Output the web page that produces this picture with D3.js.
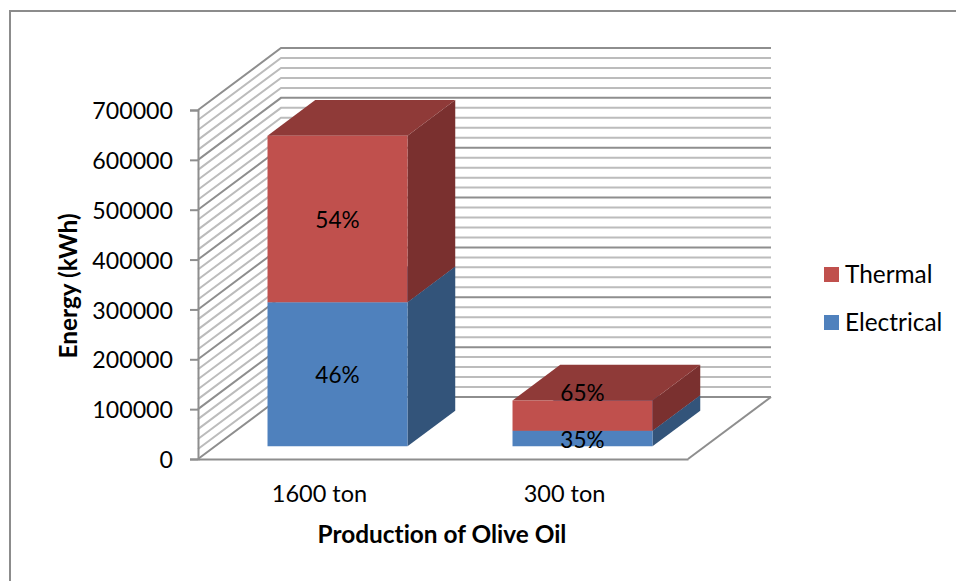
<!DOCTYPE html>
<html>
<head>
<meta charset="utf-8">
<script src="https://cdn.jsdelivr.net/npm/d3@7"></script>
<style>
  html, body { margin: 0; padding: 0; background: #fff; }
  svg { display: block; }
  text { font-family: Lato, "Open Sans", sans-serif; fill: #000; font-variant-ligatures: none; }
</style>
</head>
<body>
<script>
var categories = ['1600 ton', '300 ton'];
var electrical = [289000, 31000];
var thermal = [334000, 61000];
var electricalLabels = ['46%', '35%'];
var thermalLabels = ['54%', '65%'];
var yTicks = [0, 100000, 200000, 300000, 400000, 500000, 600000, 700000];
var minorTicks = [20000, 40000, 60000, 80000, 120000, 140000, 160000, 180000, 220000, 240000, 260000, 280000,
  320000, 340000, 360000, 380000, 420000, 440000, 460000, 480000, 520000, 540000, 560000, 580000,
  620000, 640000, 660000, 680000];

var width = 956, height = 581;

// front plane of the fake 3d box, walls are pushed back by depthX/depthY
var depthX = 83, depthY = 62;
var barNear = 0.205, barFar = 0.78;

var xScale = d3.scaleBand()
  .domain(categories)
  .range([198, 688])
  .paddingInner(0.4286)
  .paddingOuter(0.2143);

var yScale = d3.scaleLinear()
  .domain([0, 700000])
  .range([459, 110]);

var svg = d3.select('body').append('svg')
  .attr('width', width)
  .attr('height', height);

// outer chart border, cut off by the picture on the other sides
svg.append('path')
  .attr('d', 'M10,' + height + 'V11H' + width)
  .attr('fill', 'none')
  .attr('stroke', '#8c8c8c')
  .attr('stroke-width', 2);

var walls = svg.append('g').attr('fill', 'none');

function drawGrid(values, colour, weight) {
  var g = walls.append('g')
    .attr('stroke', colour)
    .attr('stroke-width', weight);
  values.forEach(function(v) {
    var y = yScale(v);
    g.append('path').attr('d', 'M198,' + y + 'L' + (198 + depthX) + ',' + (y - depthY) + 'H771');
  });
}

drawGrid(minorTicks, '#bcbcbc', 2);
drawGrid(yTicks, '#8e8e8e', 2);

// floor
walls.append('path')
  .attr('d', 'M688,459L771,' + (459 - depthY))
  .attr('stroke', '#8e8e8e')
  .attr('stroke-width', 2);

function poly(pts) {
  return 'M' + pts.map(function(p) { return p.join(','); }).join('L') + 'Z';
}

function drawBar(i, low, high, front, side, top) {
  var x0 = xScale(categories[i]) + depthX * barNear;
  var x1 = x0 + xScale.bandwidth();
  var y0 = yScale(low) - depthY * barNear;
  var y1 = yScale(high) - depthY * barNear;
  var dx = depthX * (barFar - barNear);
  var dy = depthY * (barFar - barNear);
  var g = svg.append('g');
  g.append('path').attr('fill', side)
    .attr('d', poly([[x1, y0], [x1 + dx, y0 - dy], [x1 + dx, y1 - dy], [x1, y1]]));
  g.append('path').attr('fill', top)
    .attr('d', poly([[x0, y1], [x0 + dx, y1 - dy], [x1 + dx, y1 - dy], [x1, y1]]));
  g.append('path').attr('fill', front)
    .attr('d', poly([[x0, y0], [x1, y0], [x1, y1], [x0, y1]]));
}

categories.forEach(function(c, i) {
  drawBar(i, 0, electrical[i], '#4f81bd', '#33547a', '#3d6591');
  drawBar(i, electrical[i], electrical[i] + thermal[i], '#c0504d', '#7a302f', '#8f3a38');
});

// data labels sit in the middle of the front face
function drawLabel(i, low, high, text, nudge) {
  svg.append('text')
    .attr('x', xScale(categories[i]) + depthX * barNear + xScale.bandwidth() / 2)
    .attr('y', (yScale(low) + yScale(high)) / 2 - depthY * barNear + nudge)
    .attr('dy', '0.4em')
    .attr('text-anchor', 'middle')
    .attr('font-size', 22.6)
    .text(text);
}

categories.forEach(function(c, i) {
  drawLabel(i, 0, electrical[i], electricalLabels[i], 0);
  // 65% was dragged up onto the top of the box in the original
  drawLabel(i, electrical[i], electrical[i] + thermal[i], thermalLabels[i], i === 1 ? -24 : 0);
});

// axes
var yAxis = svg.append('g')
  .attr('transform', 'translate(198,0)')
  .call(d3.axisLeft(yScale).tickValues(yTicks).tickFormat(d3.format('d')).tickSize(8).tickPadding(17));
yAxis.selectAll('text').attr('font-size', 23.2).attr('font-family', 'Lato').attr('dy', '0.37em');

var xAxis = svg.append('g')
  .attr('transform', 'translate(-1,459)')
  .call(d3.axisBottom(xScale).tickSize(0).tickPadding(26));
xAxis.selectAll('text').attr('font-size', 23.5).attr('font-family', 'Lato');

svg.selectAll('.domain, .tick line')
  .attr('stroke', '#8e8e8e')
  .attr('stroke-width', 2);
xAxis.select('.domain').attr('transform', 'translate(1,0)');

svg.append('text')
  .attr('x', 442)
  .attr('y', 543)
  .attr('text-anchor', 'middle')
  .attr('font-size', 24.4)
  .attr('font-weight', 'bold')
  .text('Production of Olive Oil');

svg.append('text')
  .attr('transform', 'translate(77,286) rotate(-90)')
  .attr('text-anchor', 'middle')
  .attr('font-size', 24.4)
  .attr('font-weight', 'bold')
  .text('Energy (kWh)');

// legend
var legendNames = ['Thermal', 'Electrical'];
var legendColours = ['#c0504d', '#4f81bd'];
var legend = svg.selectAll('.legend')
  .data(legendNames)
  .enter()
  .append('g')
  .attr('class', 'legend')
  .attr('transform', function(d, i) { return 'translate(824,' + (267 + i * 48) + ')'; });

legend.append('rect')
  .attr('width', 15)
  .attr('height', 15)
  .attr('fill', function(d, i) { return legendColours[i]; });

legend.append('text')
  .attr('x', 21)
  .attr('y', 15.5)
  .attr('font-size', 24.4)
  .text(function(d) { return d; });
</script>
</body>
</html>
